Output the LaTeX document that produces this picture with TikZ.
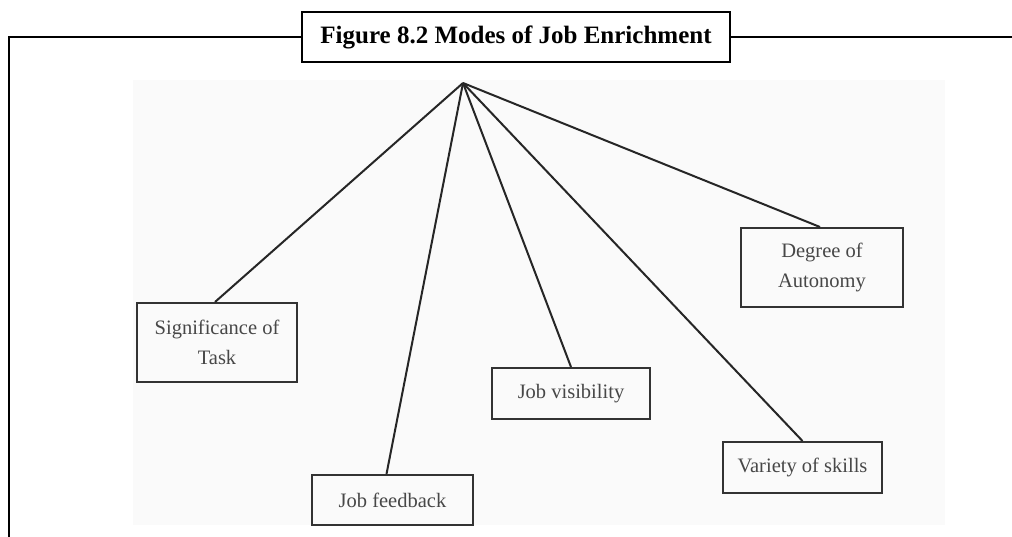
\documentclass[tikz,border=0pt]{standalone}
\usepackage{fontspec}
\setmainfont{Liberation Serif}
\begin{document}
\begin{tikzpicture}[x=1pt,y=-1pt,
  item/.style={draw=black!80, line width=2pt, text=black!72, align=center, inner sep=0pt, font=\fontsize{20.5}{29.5}\selectfont},
  link/.style={draw=black!85, line width=2pt},
  frame/.style={draw=black, line width=2.8pt}]
\useasboundingbox (0,0) rectangle (1012,536);
\fill[black!2] (133,80) rectangle (945,525);
\node[frame, draw, minimum width=428pt, minimum height=50pt, inner sep=0pt, font=\bfseries\fontsize{25}{30}\selectfont] (title) at (516,37) {Figure 8.2 Modes of Job Enrichment};
\coordinate (fl) at (9,537);
\coordinate (fr) at (1013,37);
\draw[frame] (fl) |- (title.west);
\draw[frame] (title.east) -- (fr);
\coordinate (apex) at (463,83);
\node[item, minimum width=160pt, minimum height=79pt] (sig) at (217,342.5) {Significance of\\Task};
\node[item, minimum width=161pt, minimum height=50pt] (fb) at (392.5,500) {Job feedback};
\node[item, minimum width=158pt, minimum height=51pt] (vis) at (571,393.5) {Job visibility};
\node[item, minimum width=159pt, minimum height=51pt] (var) at (802.5,467.5) {Variety of skills};
\node[item, minimum width=162pt, minimum height=79pt] (aut) at (822,267.5) {Degree of\\Autonomy};
\draw[link] (apex) -- ([xshift=-2pt]sig.north);
\draw[link] (apex) -- ([xshift=-6pt]fb.north);
\draw[link] (apex) -- (vis.north);
\draw[link] (apex) -- (var.north);
\draw[link] (apex) -- ([xshift=-2pt]aut.north);
\end{tikzpicture}
\end{document}
